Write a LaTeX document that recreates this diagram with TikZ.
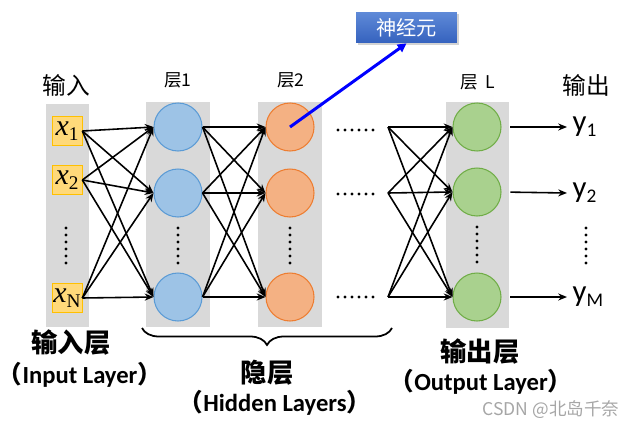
\documentclass[tikz,border=0pt]{standalone}
\usepackage{fontspec}
\setmainfont{Carlito}
\newfontfamily\cjk{Noto Sans CJK SC}
\newfontfamily\tnr{Liberation Serif}
\usepackage{xcolor}
\usepackage{tikz}
\usetikzlibrary{positioning, arrows.meta, decorations.pathreplacing, shadows}

\definecolor{colgray}{HTML}{D9D9D9}
\definecolor{inFill}{HTML}{FFD97A}
\definecolor{inLine}{HTML}{FFC000}
\definecolor{blueFill}{HTML}{9DC3E6}
\definecolor{blueLine}{HTML}{5B9BD5}
\definecolor{orgFill}{HTML}{F4B183}
\definecolor{orgLine}{HTML}{ED7D31}
\definecolor{grnFill}{HTML}{A9D18E}
\definecolor{grnLine}{HTML}{70AD47}
\definecolor{boxTop}{HTML}{5F8AD8}
\definecolor{boxBot}{HTML}{3562BE}

\newcommand{\xin}[1]{{\tnr\fontsize{17}{17}\selectfont\itshape x}\raisebox{-0.6ex}{\tnr\fontsize{11}{11}\selectfont #1}}
\newcommand{\yout}[1]{{\fontsize{17.5}{17.5}\selectfont y}\raisebox{-0.6ex}{\fontsize{11}{11}\selectfont #1}}

\begin{document}
\begin{tikzpicture}[
    x=0.02cm, y=-0.02cm,
    inbox/.style={
        draw=inLine,
        fill=inFill,
        minimum width=0.6cm,
        minimum height=0.58cm,
        inner sep=0pt
    },
    unit/.style={
        circle,
        minimum size=0.96cm,
        inner sep=0pt,
        line width=0.6pt
    },
    layerlab/.style={font=\cjk\fontsize{10}{11}\selectfont},
    toplab/.style={font=\cjk\fontsize{13.5}{14}\selectfont},
    bigcn/.style={font=\cjk\bfseries\fontsize{15}{16}\selectfont},
    bigen/.style={font=\bfseries\fontsize{14}{15}\selectfont, inner sep=0pt},
    vdots/.style={line width=1.8pt, line cap=round, dash pattern=on 0pt off 0.14cm},
    neuronbox/.style={
        top color=boxTop,
        bottom color=boxBot,
        text=white,
        minimum width=2.02cm,
        minimum height=0.62cm,
        font=\cjk\fontsize{11.5}{12}\selectfont,
        drop shadow={opacity=0.35, shadow xshift=1pt, shadow yshift=-1pt}
    },
    >={Stealth[length=5pt,width=4pt]}
]
\useasboundingbox (0,0) rectangle (635,429);

% ==========================================
% COLUMNS
% ==========================================
\fill[colgray] (46,104) rectangle (89,327);
\fill[colgray] (146,102) rectangle (210,327);
\fill[colgray] (258,102) rectangle (322,327);
\fill[colgray] (446,102) rectangle (509,328);

% ==========================================
% INPUT
% ==========================================
\node[toplab] (inlab) at (66,85) {输入};
\node[inbox] (x1) at (67,131) {\xin{1}};
\node[inbox] (x2) at (67,180) {\xin{2}};
\node[inbox] (xN) at (67,298) {\xin{N}};
\draw[vdots] (66,228) -- (66,263);

% ==========================================
% HIDDEN LAYERS
% ==========================================
\node[layerlab] (lab1) at (178,80) {层1};
\node[unit, fill=blueFill, draw=blueLine] (a1) at (178,127) {};
\node[unit, fill=blueFill, draw=blueLine] (a2) at (178,193) {};
\node[unit, fill=blueFill, draw=blueLine] (a3) at (178,297) {};
\draw[vdots] (178,228) -- (178,263);

\node[layerlab] (lab2) at (291,80) {层2};
\node[unit, fill=orgFill, draw=orgLine] (b1) at (290,127) {};
\node[unit, fill=orgFill, draw=orgLine] (b2) at (290,193) {};
\node[unit, fill=orgFill, draw=orgLine] (b3) at (290,297) {};
\draw[vdots] (290,228) -- (290,263);

% Dots between layer 2 and layer L
\draw[vdots] (338,130) -- (375,130);
\draw[vdots] (338,194) -- (375,194);
\draw[vdots] (338,297) -- (375,297);

\coordinate (d1) at (388,127);
\coordinate (d2) at (388,193);
\coordinate (d3) at (388,297);

% ==========================================
% OUTPUT LAYER
% ==========================================
\node[layerlab] (labL) at (478,82) {层~~L};
\node[unit, fill=grnFill, draw=grnLine] (c1) at (477,127) {};
\node[unit, fill=grnFill, draw=grnLine] (c2) at (477,192) {};
\node[unit, fill=grnFill, draw=grnLine] (c3) at (477,297) {};
\draw[vdots] (477,227) -- (477,262);

\node[toplab] (outlab) at (586,85) {输出};
\node[anchor=west, inner sep=3pt] (y1) at (567,127) {\yout{1}};
\node[anchor=west, inner sep=3pt] (y2) at (567,193) {\yout{2}};
\node[anchor=west, inner sep=3pt] (yM) at (567,297) {\yout{M}};
\draw[vdots] (586,228) -- (586,264);

% ==========================================
% CONNECTIONS
% ==========================================
\foreach \s in {x1,x2,xN}
    \foreach \t in {a1,a2,a3}
        \draw[->, line width=0.9pt] (\s.east) -- (\t.west);
\foreach \s in {a1,a2,a3}
    \foreach \t in {b1,b2,b3}
        \draw[->, line width=0.9pt] (\s.east) -- (\t.west);
\foreach \s in {d1,d2,d3}
    \foreach \t in {c1,c2,c3}
        \draw[->, line width=0.9pt] (\s) -- (\t.west);

\draw[->, line width=0.9pt, shorten <=5pt] (c1.east) -- (y1.west);
\draw[->, line width=0.9pt, shorten <=5pt] (c2.east) -- (y2.west);
\draw[->, line width=0.9pt, shorten <=5pt] (c3.east) -- (yM.west);

% Neuron callout
\node[neuronbox] (neuron) at (406.5,27.5) {神经元};
\draw[-{Triangle[length=5pt,width=5pt]}, blue, line width=1.7pt] (b1.center) -- (neuron.south);

% ==========================================
% BOTTOM LABELS
% ==========================================
\node[bigcn] (inlayer) at (71,343) {输入层};
\node[bigen] (inlayerEn) at (80,375) {{\cjk （}Input Layer{\cjk ）}};

\draw[decorate, decoration={brace, mirror, amplitude=0.34cm}, line width=1pt] (142,328) -- (392,328);
\node[bigcn] (hidlayer) at (267,373) {隐层};
\node[bigen] (hidlayerEn) at (275,403) {{\cjk （}Hidden Layers{\cjk ）}};

\node[bigcn] (outlayer) at (480,352) {输出层};
\node[bigen] (outlayerEn) at (481,382) {{\cjk （}Output Layer{\cjk ）}};

\node[text=gray!70, font=\cjk\fontsize{10}{11}\selectfont] (mark) at (551,410) {CSDN @北岛千奈};

\end{tikzpicture}
\end{document}
